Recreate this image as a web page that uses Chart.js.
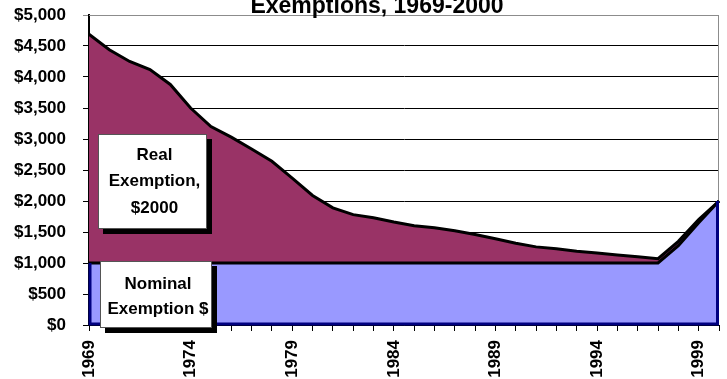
<!DOCTYPE html>
<html>
<head>
<meta charset="utf-8">
<script src="https://cdn.jsdelivr.net/npm/chart.js@4.4.1/dist/chart.umd.min.js"></script>
<style>
  html, body { margin: 0; padding: 0; background: #ffffff; }
  #wrap { width: 727px; height: 379px; position: relative; }
</style>
</head>
<body>
<div id="wrap"><canvas id="c" width="727" height="379"></canvas></div>
<script>
// Personal exemption, 1969-2000: nominal dollars and constant 2000 dollars
const years = [
  1969, 1970, 1971, 1972, 1973, 1974, 1975, 1976, 1977, 1978, 1979, 1980,
  1981, 1982, 1983, 1984, 1985, 1986, 1987, 1988, 1989, 1990, 1991, 1992,
  1993, 1994, 1995, 1996, 1997, 1998, 1999, 2000
];
const realExemption = [
  4690, 4440, 4250, 4120, 3880, 3500, 3200, 3030, 2840, 2640, 2370, 2090,
  1890, 1780, 1730, 1660, 1600, 1570, 1520, 1460, 1390, 1320, 1260, 1230,
  1190, 1160, 1130, 1100, 1070, 1350, 1700, 2000
];
const nominalExemption = [
  1000, 1000, 1000, 1000, 1000, 1000, 1000, 1000, 1000, 1000, 1000, 1000,
  1000, 1000, 1000, 1000, 1000, 1000, 1000, 1000, 1000, 1000, 1000, 1000,
  1000, 1000, 1000, 1000, 1000, 1280, 1650, 2000
];
const yTickValues = [0, 500, 1000, 1500, 2000, 2500, 3000, 3500, 4000, 4500, 5000];
const titleText = 'Exemptions, 1969-2000';
const realLabel = ['Real', 'Exemption,', '$2000'];
const nominalLabel = ['Nominal', 'Exemption $'];

const FONT = '"Liberation Sans", Arial, sans-serif';

// Gray frame on the top and right of the plot area
const frame = {
  id: 'frame',
  beforeDatasetsDraw(chart) {
    const { ctx, chartArea: a } = chart;
    ctx.save();
    ctx.strokeStyle = '#8c8c8c';
    ctx.lineWidth = 1;
    ctx.beginPath();
    ctx.moveTo(a.left, a.top + 0.5);
    ctx.lineTo(a.right - 0.5, a.top + 0.5);
    ctx.lineTo(a.right - 0.5, a.bottom);
    ctx.stroke();
    ctx.restore();
  }
};

// Navy outline along the sides and base of the nominal area
const nominalEdge = {
  id: 'nominalEdge',
  afterDatasetsDraw(chart) {
    const { ctx } = chart;
    const pts = chart.getDatasetMeta(0).data;
    const base = chart.scales.y.getPixelForValue(0);
    const first = pts[0], last = pts[pts.length - 1];
    ctx.save();
    ctx.strokeStyle = '#000080';
    ctx.lineWidth = 3;
    ctx.lineJoin = 'miter';
    ctx.beginPath();
    ctx.moveTo(first.x + 1, first.y);
    ctx.lineTo(first.x + 1, base - 1);
    ctx.lineTo(last.x - 1.5, base - 1);
    ctx.lineTo(last.x - 1.5, last.y);
    ctx.stroke();
    ctx.restore();
  }
};

function labelBox(ctx, x, y, w, h, lines, lineGap, firstY) {
  ctx.fillStyle = '#000000';
  ctx.fillRect(x + 5, y + 5, w, h);
  ctx.fillStyle = '#ffffff';
  ctx.fillRect(x, y, w, h);
  ctx.strokeStyle = '#555555';
  ctx.lineWidth = 1;
  ctx.strokeRect(x + 0.5, y + 0.5, w - 1, h - 1);
  ctx.fillStyle = '#000000';
  ctx.font = 'bold 17px ' + FONT;
  ctx.textAlign = 'center';
  ctx.textBaseline = 'middle';
  lines.forEach((t, i) => ctx.fillText(t, x + w / 2 + 2, firstY + i * lineGap));
}

// Title line and the two series captions
const captions = {
  id: 'captions',
  afterDraw(chart) {
    const { ctx } = chart;
    ctx.save();
    ctx.fillStyle = '#000000';
    ctx.font = 'bold 23px ' + FONT;
    ctx.textAlign = 'center';
    ctx.textBaseline = 'alphabetic';
    ctx.fillText(titleText, 377, 13);
    labelBox(ctx, 98, 134, 109, 95, realLabel, 26.5, 155);
    labelBox(ctx, 100, 261, 112, 67, nominalLabel, 25, 284);
    ctx.restore();
  }
};

new Chart(document.getElementById('c'), {
  type: 'line',
  data: {
    labels: years.map(String),
    datasets: [
      {
        label: 'Nominal Exemption $',
        data: nominalExemption,
        fill: 'origin',
        backgroundColor: '#9999ff',
        borderColor: '#000000',
        borderWidth: 3,
        pointRadius: 0,
        tension: 0
      },
      {
        label: 'Real Exemption, $2000',
        data: realExemption,
        fill: '-1',
        backgroundColor: '#993366',
        borderColor: '#000000',
        borderWidth: 3,
        pointRadius: 0,
        tension: 0
      }
    ]
  },
  options: {
    responsive: false,
    animation: false,
    events: [],
    layout: { padding: { left: 0, right: 8, top: 15, bottom: 0 } },
    plugins: {
      legend: { display: false },
      title: { display: false },
      tooltip: { enabled: false }
    },
    scales: {
      x: {
        type: 'category',
        offset: false,
        afterFit(scale) {
          scale.height = 54;
          scale.paddingLeft = 0;
          scale.paddingRight = 0;
        },
        grid: {
          drawOnChartArea: false,
          drawTicks: true,
          tickLength: 6,
          color: '#000000'
        },
        border: { display: true, color: '#000000', width: 1 },
        ticks: {
          autoSkip: false,
          maxRotation: 90,
          minRotation: 90,
          padding: 9,
          color: '#000000',
          font: { family: FONT, size: 17, weight: 'bold' },
          callback(value, index) {
            const yr = years[index];
            return (yr - years[0]) % 5 === 0 ? String(yr) : '';
          }
        }
      },
      y: {
        min: 0,
        max: 5000,
        afterBuildTicks(scale) {
          scale.ticks = yTickValues.map(v => ({ value: v }));
        },
        afterFit(scale) {
          scale.width = 89;
          scale.paddingTop = 0;
          scale.paddingBottom = 0;
        },
        grid: {
          drawTicks: true,
          tickLength: 6,
          color(ctx) {
            return ctx.tick && ctx.tick.value === 5000 ? '#8c8c8c' : '#000000';
          },
          lineWidth: 1
        },
        border: { display: true, color: '#000000', width: 2 },
        ticks: {
          padding: 17,
          color: '#000000',
          font: { family: FONT, size: 17, weight: 'bold' },
          callback(value) {
            return '$' + Number(value).toLocaleString('en-US');
          }
        }
      }
    }
  },
  plugins: [frame, nominalEdge, captions]
});
</script>
</body>
</html>
